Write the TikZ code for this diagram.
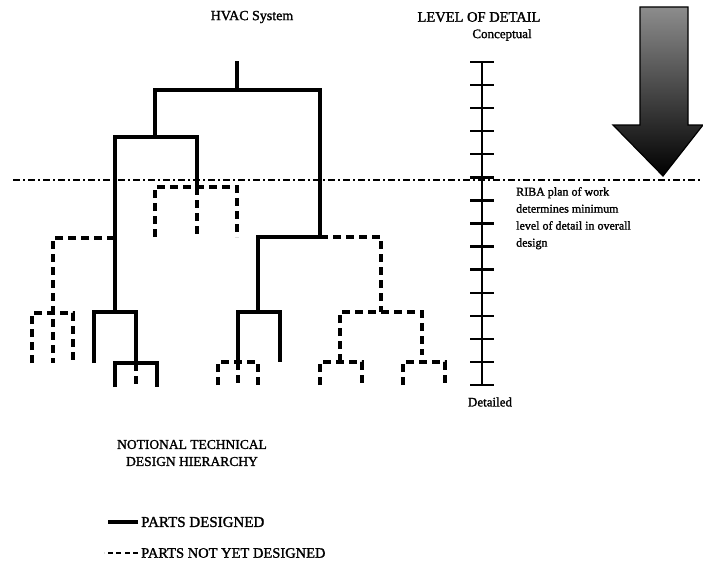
\documentclass[tikz,border=0pt]{standalone}
\usepackage{fontspec}
\setmainfont{Liberation Serif}[BoldFont=Liberation Serif, BoldFeatures={FakeBold=1.5}]
\usetikzlibrary{positioning}

\begin{document}
\begin{tikzpicture}[x=1pt, y=-1pt,
  done/.style={line width=3.2pt},
  todo/.style={line width=3.4pt, dash pattern=on 8pt off 5pt},
  stageline/.style={line width=2pt, dash pattern=on 7pt off 3pt on 2pt off 3pt},
  scale line/.style={line width=2.4pt},
  lbl/.style={font=\fontsize{#1}{17}\selectfont\bfseries, inner sep=0pt},
]
\useasboundingbox (0,0) rectangle (703,578);

% Headings
\node[lbl=14] (sys) at (252,17) {HVAC System};
\node[lbl=14.5] (lod) at (479,17) {LEVEL OF DETAIL};
\node[lbl=13] (conc) at (502,35) {Conceptual};

% Level of detail scale
\coordinate (ctop) at (482,62);
\coordinate (cbot) at (482,385);
\draw[scale line] (ctop) -- (cbot);
\foreach \i in {0,...,14}{
  \draw[scale line] (470,{62+23.07*\i}) -- ++(24,0);
}
\node[lbl=13] (det) at (490,402) {Detailed};
\node[lbl=12, anchor=north west, align=left] (riba) at (516,187) {
  RIBA plan of work\\
  determines minimum\\
  level of detail in overall\\
  design};

% Direction arrow
\draw[line width=1.2pt, top color=black!45, middle color=black!80, bottom color=black]
  (640,7) -- (688,7) -- (688,125) -- (703,125) -- (663,176)
  -- (613,125) -- (640,125) -- cycle;

% Minimum detail line
\coordinate (cut w) at (13,180);
\coordinate (cut e) at (703,180);
\draw[stageline] (cut w) -- (cut e);

% Hierarchy - parts designed
\coordinate (root) at (237,61);
\draw[done] (root) -- (237,90);
\draw[done] (155,137) -- (155,90) -- (320,90) -- (320,237);
\draw[done] (115,312) -- (115,137) -- (197,137) -- (197,187);
\draw[done] (258,312) -- (258,237) -- (320,237);
\draw[done] (94,363) -- (94,312) -- (136,312) -- (136,363);
\draw[done] (115,387) -- (115,363) -- (157,363) -- (157,387);
\draw[done] (238,362) -- (238,312) -- (280,312) -- (280,362);

% Hierarchy - parts not yet designed
\draw[todo] (155,237) -- (155,187) -- (237,187) -- (237,237);
\draw[todo] (197,187) -- (197,237);
\draw[todo] (115,238) -- (53,238) -- (53,363);
\draw[todo] (32,363) -- (32,313) -- (73,313) -- (73,363);
\draw[todo] (136,363) -- (136,387);
\draw[todo] (218,385) -- (218,362) -- (258,362) -- (258,385);
\draw[todo] (238,362) -- (238,385);
\draw[todo] (320,237) -- (381,237) -- (381,312);
\draw[todo] (340,362) -- (340,312) -- (422,312) -- (422,355);
\draw[todo] (320,385) -- (320,362) -- (362,362) -- (362,385);
\draw[todo] (403,385) -- (403,362) -- (445,362) -- (445,385);

% Caption
\node[lbl=13.5, align=center] (cap) at (192,453) {NOTIONAL TECHNICAL\\DESIGN HIERARCHY};

% Legend
\node[lbl=15, anchor=west] (des) at (141,522) {PARTS DESIGNED};
\node[lbl=14.5, anchor=west] (notdes) at (141,553) {PARTS NOT YET DESIGNED};
\draw[done] ([xshift=-3pt]des.west) -- ++(-30,0);
\draw[todo, line width=2.8pt, dash pattern=on 5pt off 3.5pt] ([xshift=-3pt]notdes.west) -- ++(-34,0);

\end{tikzpicture}
\end{document}
